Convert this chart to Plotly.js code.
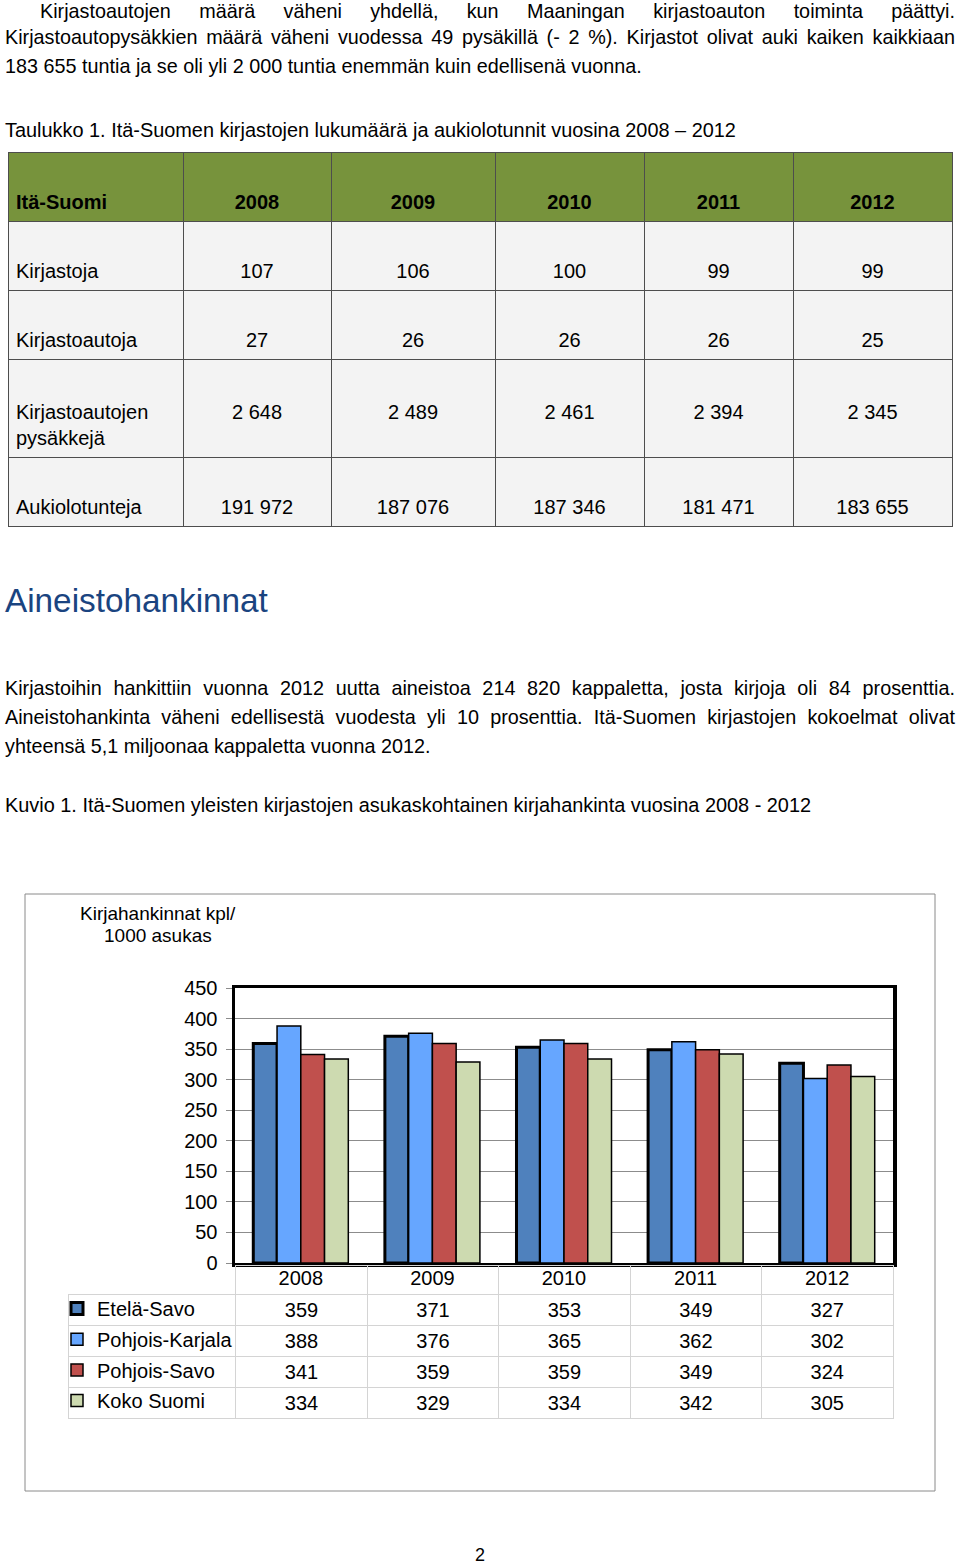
<!DOCTYPE html>
<html><head><meta charset="utf-8">
<script src="https://cdn.plot.ly/plotly-3.0.1.min.js"></script>
<style>
body{margin:0;background:#fff;}
#page{position:relative;width:960px;height:1564px;overflow:hidden;background:#fff;}
#plot{position:absolute;left:0;top:0;width:960px;height:1564px;}
.t{position:absolute;font-family:"Liberation Sans",Arial,sans-serif;color:#000;z-index:5;}
.j{text-align:justify;text-align-last:justify;}
.n{white-space:nowrap;}
</style></head>
<body><div id="page"><div id="plot"></div>
<div class="t" style="left:5px;top:0px;width:950px;font-size:19.8px;line-height:29px;">
<div class="j" style="padding-left:35px;line-height:22.5px;">Kirjastoautojen määrä väheni yhdellä, kun Maaningan kirjastoauton toiminta päättyi.</div>
<div class="j">Kirjastoautopysäkkien määrä väheni vuodessa 49 pysäkillä (- 2 %). Kirjastot olivat auki kaiken kaikkiaan</div>
<div class="n">183 655 tuntia ja se oli yli 2 000 tuntia enemmän kuin edellisenä vuonna.</div>
</div>
<div class="t n" style="left:5px;top:115.5px;font-size:19.9px;line-height:29px;">Taulukko 1. Itä-Suomen kirjastojen lukumäärä ja aukiolotunnit vuosina 2008 – 2012</div>
<div class="t n" style="left:5px;top:582px;font-size:33.3px;line-height:38px;color:#1A4480;">Aineistohankinnat</div>
<div class="t" style="left:5px;top:673.5px;width:950px;font-size:19.8px;line-height:29px;">
<div class="j">Kirjastoihin hankittiin vuonna 2012 uutta aineistoa 214 820 kappaletta, josta kirjoja oli 84 prosenttia.</div>
<div class="j">Aineistohankinta väheni edellisestä vuodesta yli 10 prosenttia. Itä-Suomen kirjastojen kokoelmat olivat</div>
<div class="n">yhteensä 5,1 miljoonaa kappaletta vuonna 2012.</div>
</div>
<div class="t n" style="left:5px;top:790.5px;font-size:19.9px;line-height:29px;">Kuvio 1. Itä-Suomen yleisten kirjastojen asukaskohtainen kirjahankinta vuosina 2008 - 2012</div>
</div>
<script>
// ---- Table 1 data ----
const tableHeader = ['Itä-Suomi', '2008', '2009', '2010', '2011', '2012'];
const rowLabels = ['Kirjastoja', 'Kirjastoautoja', 'Kirjastoautojen<br>pysäkkejä', 'Aukiolotunteja'];
const kirjastoja = ['107', '106', '100', '99', '99'];
const kirjastoautoja = ['27', '26', '26', '26', '25'];
const pysakkeja = ['2 648', '2 489', '2 461', '2 394', '2 345'];
const aukiolotunteja = ['191 972', '187 076', '187 346', '181 471', '183 655'];

// ---- Figure 1 data ----
const years = ['2008', '2009', '2010', '2011', '2012'];
const seriesNames = ['Etelä-Savo', 'Pohjois-Karjala', 'Pohjois-Savo', 'Koko Suomi'];
const etelaSavo = [359, 371, 353, 349, 327];
const pohjoisKarjala = [388, 376, 365, 362, 302];
const pohjoisSavo = [341, 359, 359, 349, 324];
const kokoSuomi = [334, 329, 334, 342, 305];
const yTicks = [0, 50, 100, 150, 200, 250, 300, 350, 400, 450];

const W = 960, H = 1564;
const px = x => x / W;
const py = y => 1 - y / H;
const FONT = 'Liberation Sans, Arial, sans-serif';

const seriesValues = [etelaSavo, pohjoisKarjala, pohjoisSavo, kokoSuomi];
const seriesColors = ['#4F81BD', '#66A6FF', '#C0504D', '#CDDAB0'];
const seriesLineW = [3, 1.5, 1.5, 1.5];

// blank lead line (bigger spacer pushes the text to the bottom of the cell)
const spacer = sz => '<span style="font-size:' + sz + 'px">\u00a0</span><br>';
const rowSpacer = [25.3, 25.3, 29, 25.3];

// Table 1 columns
const t1Cols = [rowLabels.map((s, r) => spacer(rowSpacer[r]) + s)];
for (let j = 0; j < years.length; j++) {
  t1Cols.push([kirjastoja[j], kirjastoautoja[j], pysakkeja[j], aukiolotunteja[j]].map((s, r) => spacer(rowSpacer[r]) + s));
}

const traces = [];
traces.push({
  type: 'table',
  domain: {x: [px(8), px(952)], y: [py(530), py(152)]},
  columnwidth: [175, 148, 164, 149, 149, 159],
  header: {
    values: tableHeader.map(s => spacer(25.3) + '<b>' + s + '</b>'),
    align: ['left', 'center', 'center', 'center', 'center', 'center'],
    fill: {color: '#77933C'},
    line: {color: '#4D4D4D', width: 1},
    font: {family: FONT, size: 20, color: '#000'},
    height: 68
  },
  cells: {
    values: t1Cols,
    align: ['left', 'center', 'center', 'center', 'center', 'center'],
    fill: {color: '#F3F3F3'},
    line: {color: '#4D4D4D', width: 1},
    font: {family: FONT, size: 20, color: '#000'},
    height: 68
  }
});

// Bars
seriesNames.forEach((name, i) => {
  traces.push({
    type: 'bar',
    name: name,
    x: years,
    y: seriesValues[i],
    legendgroup: 'g' + i,
    marker: {color: seriesColors[i], line: {color: '#000', width: seriesLineW[i]}},
    xaxis: 'x', yaxis: 'y'
  });
});

// Data table under chart (year labels come from the x axis)
const t2Cols = [seriesNames.map(() => '')];
for (let j = 0; j < years.length; j++) {
  t2Cols.push(seriesValues.map(v => String(v[j])));
}
const clear = 'rgba(0,0,0,0)';
traces.push({
  type: 'table',
  domain: {x: [px(68), px(893)], y: [py(1422), py(1265)]},
  columnwidth: [168, 131.6, 131.6, 131.6, 131.6, 131.6],
  header: {
    values: ['', '', '', '', '', ''],
    align: 'center',
    fill: {color: clear},
    line: {color: [clear, '#D4D4D4', '#D4D4D4', '#D4D4D4', '#D4D4D4', '#D4D4D4'], width: 1},
    font: {family: FONT, size: 20, color: '#000'},
    height: 29
  },
  cells: {
    values: t2Cols,
    align: 'center',
    fill: {color: '#fff'},
    line: {color: '#D4D4D4', width: 1},
    font: {family: FONT, size: 20, color: '#000'},
    height: 31
  }
});

const layout = {
  width: W, height: H,
  margin: {l: 0, r: 0, t: 0, b: 0},
  paper_bgcolor: '#fff',
  plot_bgcolor: '#fff',
  font: {family: FONT, size: 20, color: '#000'},
  barmode: 'group',
  bargap: 0.278,
  bargroupgap: 0,
  showlegend: true,
  legend: {
    x: px(57), xanchor: 'left',
    y: py(1289), yanchor: 'top',
    traceorder: 'grouped',
    tracegroupgap: 1.7,
    font: {family: FONT, size: 20, color: '#000'},
    bgcolor: 'rgba(0,0,0,0)',
    borderwidth: 0
  },
  xaxis: {
    domain: [px(235), px(893)],
    type: 'category',
    showticklabels: true,
    tickfont: {family: FONT, size: 20, color: '#000'},
    ticks: '',
    ticklabelstandoff: -6,
    showline: true, linecolor: '#000', linewidth: 3.5, mirror: true,
    showgrid: false, zeroline: false,
    fixedrange: true
  },
  yaxis: {
    domain: [py(1263), py(988)],
    range: [0, 450],
    tickvals: yTicks,
    ticks: 'outside', ticklen: 6, tickcolor: '#8C8C8C', tickwidth: 1,
    ticklabelstandoff: 4,
    tickfont: {family: FONT, size: 20, color: '#000'},
    showline: true, linecolor: '#000', linewidth: 3.5, mirror: true,
    showgrid: true, gridcolor: '#8C8C8C', gridwidth: 1,
    zeroline: false,
    fixedrange: true
  },
  shapes: [{
    type: 'rect', xref: 'paper', yref: 'paper',
    x0: px(25), x1: px(935), y0: py(1491), y1: py(894),
    line: {color: '#8A8A8A', width: 1}, fillcolor: 'rgba(0,0,0,0)', layer: 'below'
  }],
  annotations: [
    {text: 'Kirjahankinnat kpl/', xref: 'paper', yref: 'paper', x: px(158), y: py(913), xanchor: 'center', yanchor: 'middle', showarrow: false, font: {family: FONT, size: 19, color: '#000'}},
    {text: '1000 asukas', xref: 'paper', yref: 'paper', x: px(158), y: py(935), xanchor: 'center', yanchor: 'middle', showarrow: false, font: {family: FONT, size: 19, color: '#000'}},
    {text: '2', xref: 'paper', yref: 'paper', x: px(480), y: py(1555), xanchor: 'center', yanchor: 'middle', showarrow: false, font: {family: FONT, size: 18, color: '#000'}}
  ]
};

Plotly.newPlot('plot', traces, layout, {staticPlot: true, displayModeBar: false});
</script>
</body></html>
